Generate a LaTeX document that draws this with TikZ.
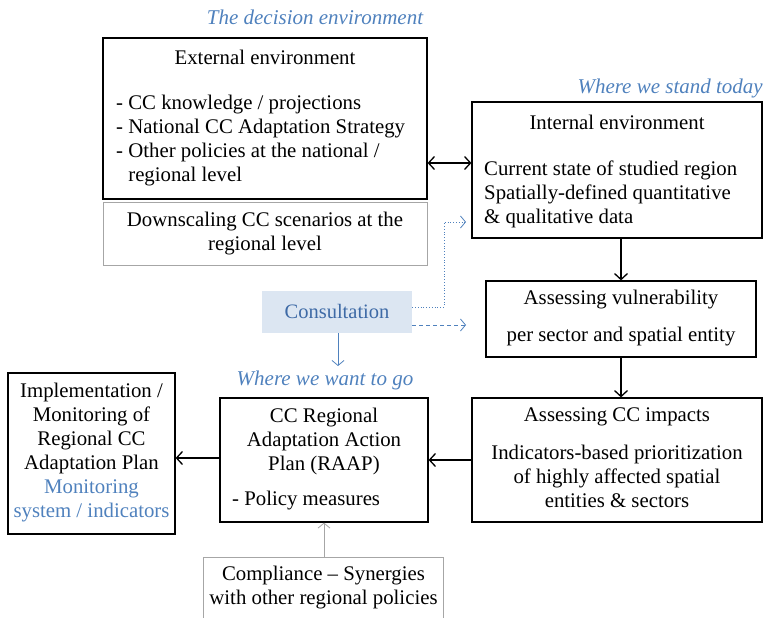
\documentclass[tikz,border=0pt]{standalone}
\usepackage{fontspec}
\setmainfont{Liberation Serif}
\usetikzlibrary{arrows.meta}
\definecolor{lblue}{HTML}{4F81BD}
\definecolor{cfill}{HTML}{DCE6F2}
\definecolor{ctext}{HTML}{3E6AA6}
\definecolor{gline}{HTML}{A6A6A6}
\begin{document}
\begin{tikzpicture}[x=1pt,y=-1pt,
  box/.style={draw=black,line width=1.2pt,inner sep=0pt},
  gbox/.style={draw=gline,line width=0.9pt,inner sep=0pt},
  tx/.style={font=\fontsize{20.8}{24}\selectfont,inner sep=0pt},
  lab/.style={font=\fontsize{21}{24}\selectfont\itshape,text=lblue,inner sep=0pt},
  arr/.style={line width=1.3pt,-{Straight Barb[length=6pt,width=13pt,line width=1.3pt]}},
  darr/.style={line width=1.3pt,{Straight Barb[length=6pt,width=13pt,line width=1.3pt]}-{Straight Barb[length=6pt,width=13pt,line width=1.3pt]}},
  barr/.style={draw=lblue,line width=0.8pt,-{Straight Barb[length=5pt,width=12pt,line width=0.8pt]}},
  garr/.style={draw=gline,line width=0.8pt,-{Straight Barb[length=5pt,width=12pt,line width=0.8pt]}}]
\useasboundingbox (0,0) rectangle (766,618);

% labels
\node[lab] (ldec) at (315,17) {The decision environment};
\node[lab,anchor=east] (lstand) at (763,88) {Where we stand today};
\node[lab] (lwant) at (325,380) {Where we want to go};

% External
\node[box,minimum width=324pt,minimum height=161pt] (ext) at (265,118.5) {};
\node[tx] (extt) at (265,57) {External environment};
\node[tx,align=left,anchor=west] (extl) at (116,141) {- CC knowledge / projections\\- National CC Adaptation Strategy\\- Other policies at the national /\\\phantom{- }regional level};

% Downscaling
\node[gbox,minimum width=324pt,minimum height=63pt] (down) at (265,233.5) {};
\node[tx,align=center] (downt) at (265,234) {Downscaling CC scenarios at the\\regional level};

% Internal
\node[box,minimum width=290pt,minimum height=136pt] (int) at (617,170) {};
\node[tx] (intt) at (617,122) {Internal environment};
\node[tx,align=left,anchor=west] (intl) at (484,194) {Current state of studied region\\Spatially-defined quantitative\\\& qualitative data};

% Vulnerability
\node[box,minimum width=270pt,minimum height=76pt] (vul) at (621,319) {};
\node[tx] (vult) at (621,300) {Assessing vulnerability};
\node[tx] (vull) at (621,337) {per sector and spatial entity};

% Impacts
\node[box,minimum width=290pt,minimum height=124pt] (imp) at (617,460) {};
\node[tx] (impt) at (617,417) {Assessing CC impacts};
\node[tx,align=center] (impl) at (617,476) {Indicators-based prioritization\\of highly affected spatial\\entities \& sectors};

% RAAP
\node[box,minimum width=208pt,minimum height=124pt] (raap) at (324,460) {};
\node[tx,align=center] (raapt) at (324,441) {CC Regional\\Adaptation Action\\Plan (RAAP)};
\node[tx,anchor=west] (raapl) at (232,501) {- Policy measures};

% Implementation
\node[box,minimum width=167pt,minimum height=161pt] (imple) at (91.5,453.5) {};
\node[tx,align=center] (implt) at (91.5,453) {Implementation /\\Monitoring of\\Regional CC\\Adaptation Plan\\\textcolor{lblue}{Monitoring}\\\textcolor{lblue}{system / indicators}};

% Compliance (bottom edge outside the picture)
\node[inner sep=0pt,minimum width=239pt,minimum height=62pt] (comp) at (323.5,589) {};
\draw[gline,line width=0.9pt] (comp.south west) -- (comp.north west) -- (comp.north east) -- (comp.south east);
\node[tx,align=center] (compt) at (323.5,588) {Compliance -- Synergies\\with other regional policies};

% Consultation
\node[fill=cfill,inner sep=0pt,minimum width=150pt,minimum height=42pt] (cons) at (337,312) {};
\node[font=\fontsize{20.5}{24}\selectfont,text=ctext,inner sep=0pt] (const) at (337,311) {Consultation};

% coordinates
\coordinate (cdown) at (338,366);
\coordinate (dotturn) at (444,307);
\coordinate (dotend) at (466,222);
\coordinate (dashend) at (466,325);

% connectors
\draw[darr] (ext.east |- 0,163) -- (int.west |- 0,163);
\draw[arr] (int.south -| vul.north) -- (vul.north);
\draw[arr] (vul.south) -- (vul.south |- imp.north);
\draw[arr] (imp.west) -- (raap.east);
\draw[arr] (raap.west |- 0,458) -- (imple.east |- 0,458);
\draw[garr] (comp.north -| raap.south) -- (raap.south);
\draw[barr] (cons.south -| cdown) -- (cdown);
\draw[barr,dotted,line width=0.9pt] (cons.east |- dotturn) -- (dotturn) |- (dotend);
\draw[barr,dashed,dash pattern=on 4pt off 3pt] (cons.east |- dashend) -- (dashend);
\end{tikzpicture}
\end{document}
